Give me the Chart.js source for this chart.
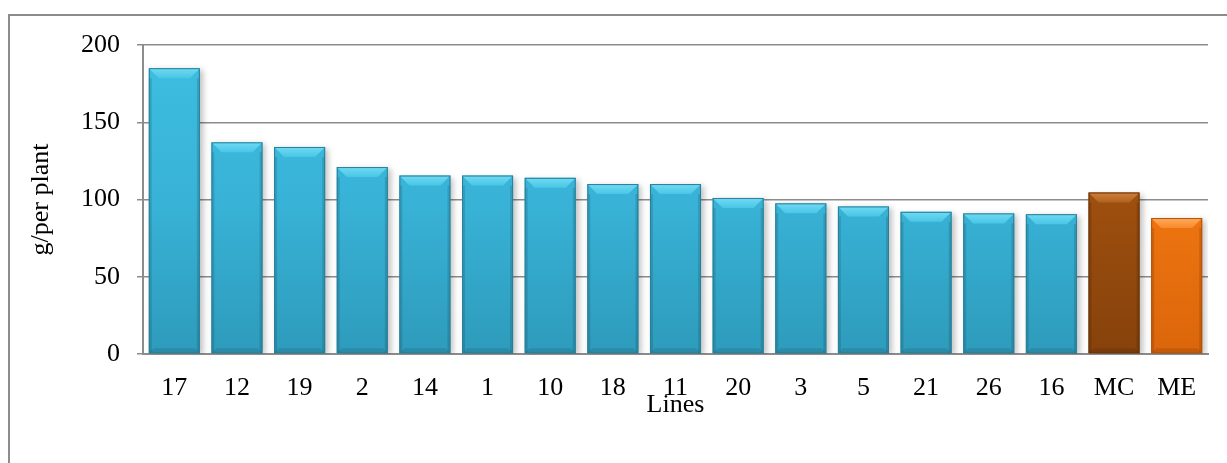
<!DOCTYPE html>
<html>
<head>
<meta charset="utf-8">
<script src="https://cdn.jsdelivr.net/npm/chart.js@4/dist/chart.umd.min.js"></script>
<style>
  html, body { margin: 0; padding: 0; background: #fff; }
  #wrap { position: relative; width: 1227px; height: 463px; }
  canvas { display: block; }
</style>
</head>
<body>
<div id="wrap"><canvas id="c" width="1227" height="463"></canvas></div>
<script>
// Plant lines and their yield (g per plant), two checks at the end
const lines = ['17', '12', '19', '2', '14', '1', '10', '18', '11', '20', '3', '5', '21', '26', '16', 'MC', 'ME'];
const yieldPerPlant = [185, 137, 134, 121, 115.5, 115.5, 114, 110, 110, 101, 97.5, 95.5, 92, 91, 90.5, 104.5, 88];
const yTicks = [0, 50, 100, 150, 200];

// Bar colour per line: blue for lines, brown and orange for the checks
const baseColors = lines.map(l => l === 'MC' ? 'mc' : (l === 'ME' ? 'me' : 'line'));
const palette = {
  line: { top: '#3dbee1', mid: '#38b3d7', bottom: '#2e9bbb', bevelTop: '#72daf3', bevelBot: '#48c6e6', edge: '#287f99' },
  mc:   { top: '#a6550f', mid: '#9d4f0e', bottom: '#86420b', bevelTop: '#cf8040', bevelBot: '#b0621c', edge: '#6a3408' },
  me:   { top: '#f37d13', mid: '#ef7510', bottom: '#db660b', bevelTop: '#ffab5c', bevelBot: '#f78a2c', edge: '#b5520a' }
};

const SERIF = "'Liberation Serif', 'Times New Roman', serif";

function barFill(ctx) {
  const chart = ctx.chart;
  const area = chart.chartArea;
  if (!area) return palette.line.mid;
  const p = palette[baseColors[ctx.dataIndex]];
  const g = chart.ctx.createLinearGradient(0, area.top, 0, area.bottom);
  g.addColorStop(0, p.top);
  g.addColorStop(0.5, p.mid);
  g.addColorStop(1, p.bottom);
  return g;
}

// Frame around the whole chart area
const framePlugin = {
  id: 'frame',
  beforeDraw(chart) {
    const c = chart.ctx;
    c.save();
    c.fillStyle = '#fff';
    c.fillRect(0, 0, chart.width, chart.height);
    c.strokeStyle = '#8c8c8c';
    c.lineWidth = 2;
    c.strokeRect(9, 15, chart.width + 20, chart.height + 20);
    c.restore();
  }
};

// Soft shadow under the bars and bevelled edges on each one
const bevelPlugin = {
  id: 'bevel',
  beforeDatasetDraw(chart) {
    const c = chart.ctx;
    c.save();
    c.shadowColor = 'rgba(0,0,0,0.25)';
    c.shadowBlur = 6;
    c.shadowOffsetX = 3;
    c.shadowOffsetY = 2;
  },
  afterDatasetDraw(chart, args) {
    const c = chart.ctx;
    c.restore();
    const meta = args.meta;
    meta.data.forEach((bar, i) => {
      const { x, y, width, base } = bar.getProps(['x', 'y', 'width', 'base'], true);
      const p = palette[baseColors[i]];
      const l = x - width / 2, r = x + width / 2;
      const b = 10, s = 3, bb = 5;
      c.save();
      // side strips
      c.fillStyle = 'rgba(0,0,0,0.12)';
      c.fillRect(l, y + b, s, base - y - b);
      c.fillRect(r - s, y + b, s, base - y - b);
      // bottom bevel
      c.fillStyle = 'rgba(0,0,0,0.10)';
      c.beginPath();
      c.moveTo(l, base);
      c.lineTo(r, base);
      c.lineTo(r - bb, base - bb);
      c.lineTo(l + bb, base - bb);
      c.closePath();
      c.fill();
      // top bevel
      const g = c.createLinearGradient(0, y, 0, y + b);
      g.addColorStop(0, p.bevelTop);
      g.addColorStop(1, p.bevelBot);
      c.fillStyle = g;
      c.beginPath();
      c.moveTo(l, y);
      c.lineTo(r, y);
      c.lineTo(r - b, y + b);
      c.lineTo(l + b, y + b);
      c.closePath();
      c.fill();
      // outline
      c.strokeStyle = p.edge;
      c.lineWidth = 1;
      c.strokeRect(l + 0.5, y + 0.5, width - 1, base - y - 1);
      c.restore();
    });
  }
};

new Chart(document.getElementById('c'), {
  type: 'bar',
  data: {
    labels: lines,
    datasets: [{
      data: yieldPerPlant,
      backgroundColor: barFill,
      borderWidth: 0,
      categoryPercentage: 1,
      barPercentage: 0.815
    }]
  },
  options: {
    responsive: false,
    animation: false,
    devicePixelRatio: 1,
    layout: { padding: { left: 0, top: 45, right: 19, bottom: 0 } },
    plugins: { legend: { display: false }, tooltip: { enabled: false } },
    scales: {
      x: {
        afterFit(scale) { scale.height = 109; },
        grid: { display: false, drawTicks: false },
        border: { display: true, color: '#8c8c8c', width: 2 },
        ticks: {
          color: '#000',
          padding: 19,
          maxRotation: 0,
          autoSkip: false,
          font: { family: SERIF, size: 26 }
        },
        title: {
          display: true,
          text: 'Lines',
          color: '#000',
          font: { family: SERIF, size: 26 },
          padding: { top: 0, bottom: 42 }
        }
      },
      y: {
        min: 0,
        max: 200,
        afterFit(scale) { scale.width = 143; },
        afterBuildTicks(scale) { scale.ticks = yTicks.map(v => ({ value: v })); },
        grid: { color: '#8c8c8c', lineWidth: 1.5, tickLength: 6, drawTicks: true },
        border: { display: true, color: '#8c8c8c', width: 2 },
        ticks: {
          color: '#000',
          padding: 17,
          font: { family: SERIF, size: 26 }
        },
        title: {
          display: true,
          text: 'g/per plant',
          color: '#000',
          font: { family: SERIF, size: 26 },
          padding: { top: 26, bottom: 0 }
        }
      }
    }
  },
  plugins: [framePlugin, bevelPlugin]
});
</script>
</body>
</html>
